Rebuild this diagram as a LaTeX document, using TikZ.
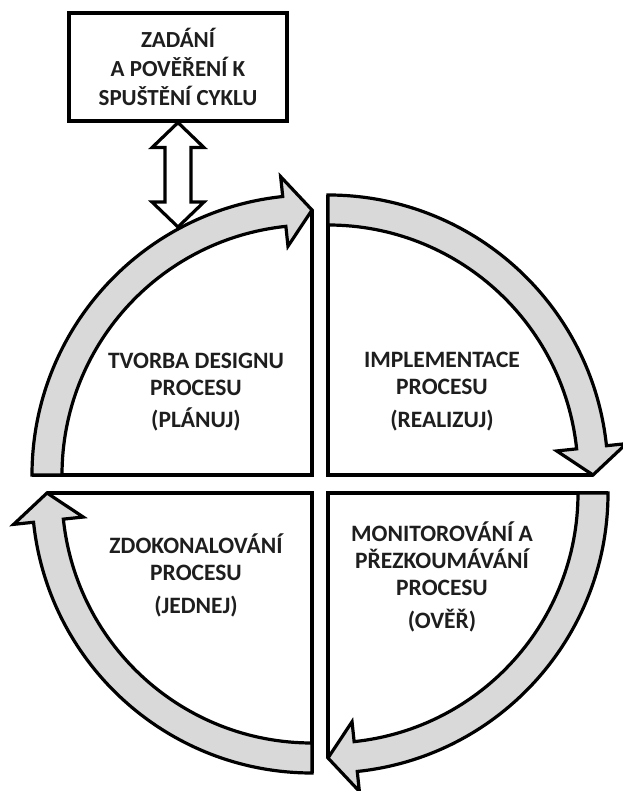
\documentclass[tikz,border=0pt]{standalone}
\usepackage{fontspec}
\setmainfont{Carlito}
\usetikzlibrary{calc}
\definecolor{bandgray}{RGB}{217,217,217}
\definecolor{inkgray}{RGB}{30,30,30}
\tikzset{
  outline/.style={draw=black, line width=3.2pt, line join=miter},
  band/.style={outline, fill=bandgray},
  quadline/.style={draw=black, line width=3.2pt},
  label/.style={font=\bfseries\fontsize{23.5}{27}\selectfont, align=center, text=inkgray},
  taskbox/.style={outline, fill=white, minimum width=218pt, minimum height=108pt,
    inner sep=0pt, align=center, text=inkgray,
    font=\bfseries\fontsize{23}{29}\selectfont}
}
% curved cycle arrow: centre, start angle, angle of the tip (clockwise)
\newcommand\cyclearrow[3]{%
  \draw[band] ($(#1)+(#2:280pt)$) arc[start angle=#2, end angle=#3+6, radius=280pt]
    -- ($(#1)+(#3+6:300pt)$) -- ($(#1)+(#3:265pt)$) -- ($(#1)+(#3+6:230pt)$)
    -- ($(#1)+(#3+6:250pt)$) arc[start angle=#3+6, end angle=#2, radius=250pt]
    -- cycle;}
\begin{document}
\begin{tikzpicture}[x=1pt, y=1pt]
  \useasboundingbox (0,0) rectangle (622,791);

  % corners of the four quadrants
  \coordinate (tl) at (312,316);
  \coordinate (tr) at (328,316);
  \coordinate (br) at (328,298);
  \coordinate (bl) at (312,298);

  % task box and the two-way link to the cycle
  \node[taskbox] (task) at (178,724) {ZADÁNÍ\\A POVĚŘENÍ K\\SPUŠTĚNÍ CYKLU};
  \coordinate (entry) at (178,564);
  \draw[outline, fill=white] (task.south) -- ++(26pt,-25pt) -- ++(-13pt,0pt)
    -- ($(entry)+(13pt,25pt)$) -- ++(13pt,0pt) -- (entry) -- ++(-26pt,25pt)
    -- ++(13pt,0pt) -- ($(task.south)+(-13pt,-25pt)$) -- ++(-13pt,0pt) -- cycle;

  % straight edges of the quadrants
  \draw[quadline] ($(tl)+(180:280pt)$) -- (tl) -- ($(tl)+(90:265pt)$);
  \draw[quadline] ($(tr)+(90:280pt)$) -- (tr) -- ($(tr)+(0:265pt)$);
  \draw[quadline] ($(br)+(0:280pt)$) -- (br) -- ($(br)+(-90:265pt)$);
  \draw[quadline] ($(bl)+(-90:280pt)$) -- (bl) -- ($(bl)+(180:265pt)$);

  % cycle arrows
  \cyclearrow{tl}{180}{90}
  \cyclearrow{tr}{90}{0}
  \cyclearrow{br}{0}{-90}
  \cyclearrow{bl}{270}{180}

  % phase labels
  \node[label] (plan) at (196,399) {TVORBA DESIGNU\\PROCESU\\[5pt](PLÁNUJ)};
  \node[label] (do) at (442,399.5) {IMPLEMENTACE\\PROCESU\\[6pt](REALIZUJ)};
  \node[label] (check) at (442,214) {MONITOROVÁNÍ A\\PŘEZKOUMÁVÁNÍ\\PROCESU\\[6pt](OVĚŘ)};
  \node[label] (act) at (196,216) {ZDOKONALOVÁNÍ\\PROCESU\\[6pt](JEDNEJ)};
\end{tikzpicture}
\end{document}
